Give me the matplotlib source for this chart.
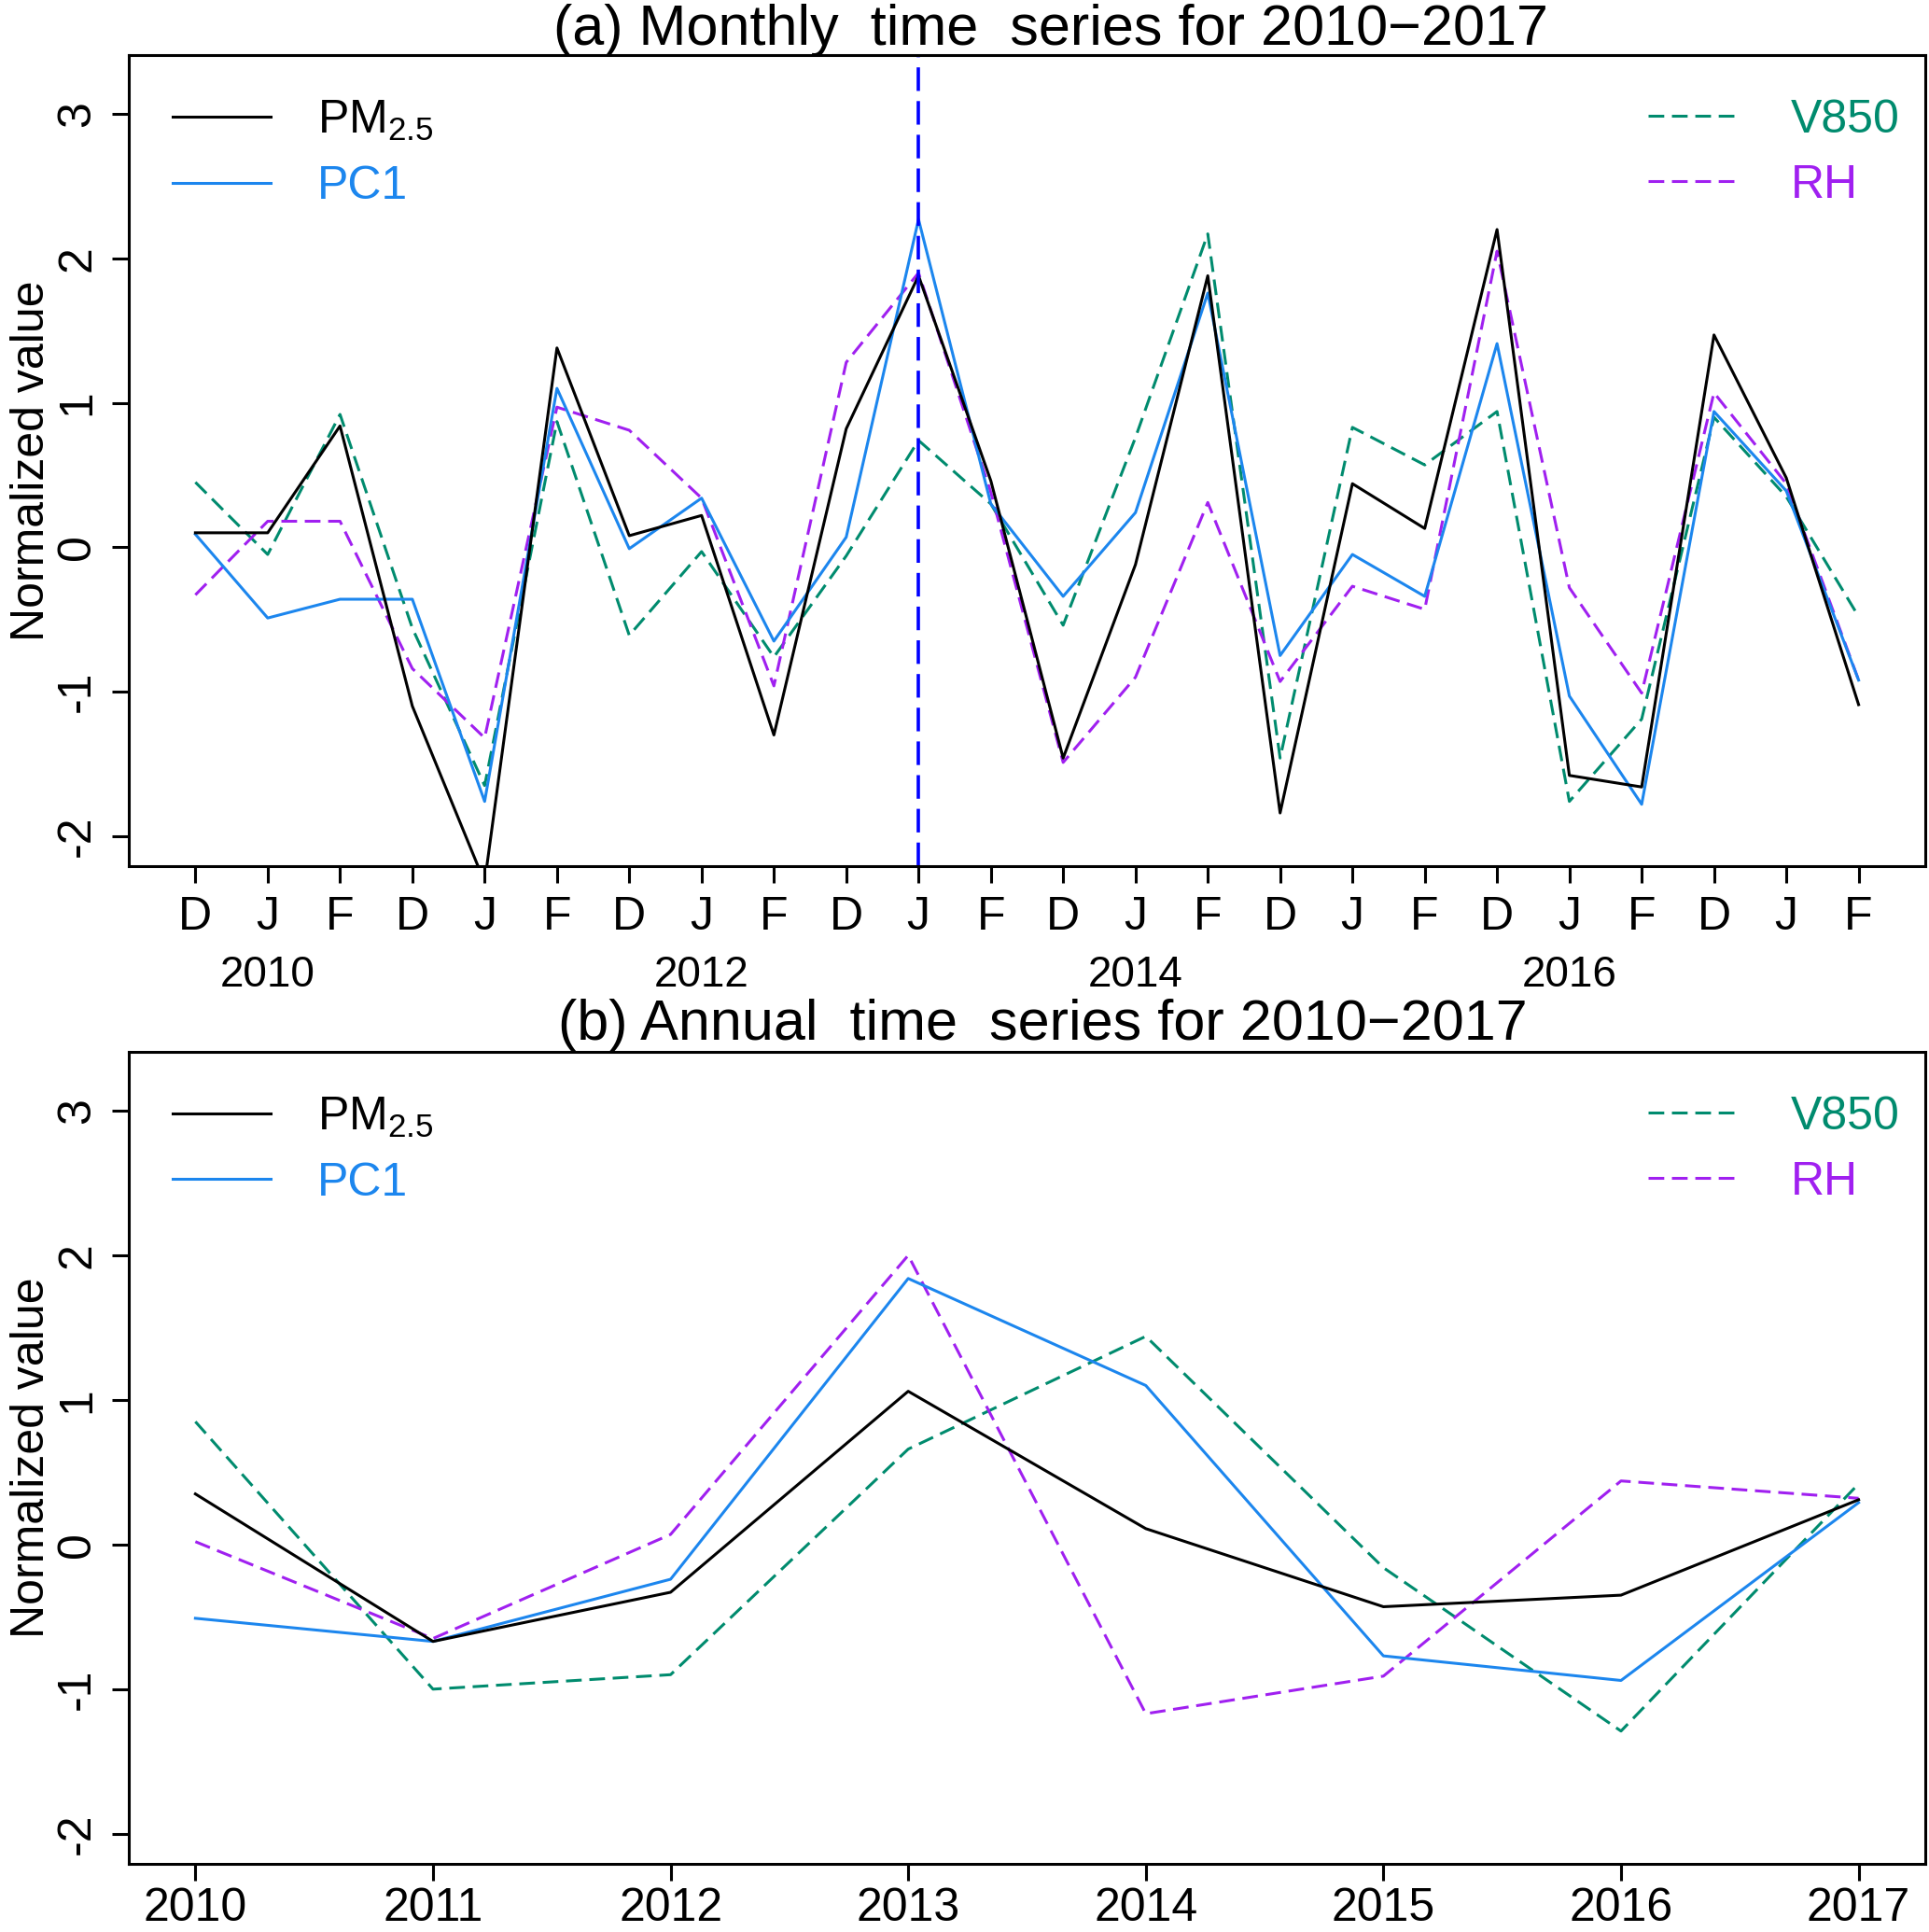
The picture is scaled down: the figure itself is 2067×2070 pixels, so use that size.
import numpy as np
import matplotlib
matplotlib.use("Agg")
import matplotlib.pyplot as plt
from matplotlib.lines import Line2D
from matplotlib.transforms import blended_transform_factory

plt.rcParams['font.family'] = ['Liberation Sans', 'DejaVu Sans']
plt.rcParams['mathtext.fontset'] = 'custom'
plt.rcParams['mathtext.rm'] = 'Liberation Sans'
plt.rcParams['mathtext.it'] = 'Liberation Sans:italic'
plt.rcParams['axes.unicode_minus'] = False

# monthly (DJF) series, Dec 2009 .. Feb 2017
month_labels = ['D', 'J', 'F'] * 8
year_labels = ['2010', '2012', '2014', '2016']
year_pos = [2, 8, 14, 20]
pm25_m = [0.10, 0.10, 0.84, -1.10, -2.32, 1.38, 0.08, 0.22, -1.30, 0.82, 1.88, 0.46,
          -1.46, -0.12, 1.88, -1.84, 0.44, 0.13, 2.20, -1.58, -1.66, 1.47, 0.48, -1.09]
pc1_m = [0.09, -0.49, -0.36, -0.36, -1.76, 1.10, -0.01, 0.34, -0.65, 0.07, 2.27, 0.30,
         -0.34, 0.24, 1.76, -0.75, -0.05, -0.34, 1.41, -1.03, -1.78, 0.94, 0.39, -0.92]
v850_m = [0.45, -0.05, 0.92, -0.56, -1.65, 0.87, -0.61, -0.03, -0.76, -0.06, 0.74, 0.30,
          -0.54, 0.76, 2.17, -1.46, 0.83, 0.57, 0.94, -1.76, -1.19, 0.90, 0.35, -0.48]
rh_m = [-0.33, 0.18, 0.18, -0.84, -1.32, 0.97, 0.81, 0.34, -0.96, 1.28, 1.90, 0.38,
        -1.49, -0.90, 0.31, -0.93, -0.27, -0.43, 2.05, -0.28, -1.01, 1.07, 0.44, -0.92]
vline_month = 11

# annual series
years = [2010, 2011, 2012, 2013, 2014, 2015, 2016, 2017]
pm25_a = [0.35, -0.67, -0.33, 1.06, 0.11, -0.43, -0.35, 0.31]
pc1_a = [-0.51, -0.67, -0.24, 1.84, 1.10, -0.77, -0.94, 0.29]
v850_a = [0.85, -1.00, -0.90, 0.66, 1.44, -0.16, -1.29, 0.42]
rh_a = [0.02, -0.65, 0.07, 2.00, -1.17, -0.91, 0.44, 0.32]

c_pm = 'black'
c_pc = '#1C86EE'
c_v = '#008B6E'
c_rh = '#A020F0'
lw = 2.2
dash = (5.5, 2.7)
fs = 36


def style_axes(ax):
    ax.set_ylim(-2.208, 3.408)
    ax.set_yticks([-2, -1, 0, 1, 2, 3])
    ax.set_yticklabels(['-2', '-1', '0', '1', '2', '3'], rotation=90, va='center')
    ax.tick_params(axis='both', length=13, width=2.2, pad=10, labelsize=fs)
    for s in ax.spines.values():
        s.set_linewidth(2.2)
    ax.set_ylabel('Normalized value', fontsize=fs)
    ax.yaxis.set_label_coords(-0.042, 0.5)


def draw_series(ax, x, pm, pc, v, rh):
    ax.plot(x, v, color=c_v, lw=lw, dashes=dash)
    ax.plot(x, rh, color=c_rh, lw=lw, dashes=dash)
    ax.plot(x, pc, color=c_pc, lw=lw)
    ax.plot(x, pm, color=c_pm, lw=lw)


def add_legends(ax):
    h1 = [Line2D([], [], color=c_pm, lw=lw), Line2D([], [], color=c_pc, lw=lw)]
    leg1 = ax.legend(h1, ['PM$_{2.5}$', 'PC1'], loc='upper left',
                     bbox_to_anchor=(0.0244, 0.946), frameon=False, fontsize=fs,
                     handlelength=2.1, handletextpad=1.0, labelspacing=0.48,
                     borderpad=0, borderaxespad=0, labelcolor=[c_pm, c_pc])
    ax.add_artist(leg1)
    h2 = [Line2D([], [], color=c_v, lw=lw, dashes=dash),
          Line2D([], [], color=c_rh, lw=lw, dashes=dash)]
    ax.legend(h2, ['V850', 'RH'], loc='upper left',
              bbox_to_anchor=(0.846, 0.946), frameon=False, fontsize=fs,
              handlelength=1.84, handletextpad=1.2, labelspacing=0.48,
              borderpad=0, borderaxespad=0, labelcolor=[c_v, c_rh])


fig = plt.figure(figsize=(20.67, 20.70), dpi=100)
ax1 = fig.add_axes([0.0668, 0.5517, 0.9312, 0.4198])
ax2 = fig.add_axes([0.0668, 0.0353, 0.9312, 0.4203])

# (a) monthly
xm = np.arange(1, len(month_labels) + 1)
draw_series(ax1, xm, pm25_m, pc1_m, v850_m, rh_m)
ax1.axvline(vline_month, color='#0000FF', lw=2.6, dashes=(7, 3))
ax1.set_xlim(0.08, 24.92)
ax1.set_xticks(xm)
ax1.set_xticklabels(month_labels)
style_axes(ax1)
tr = blended_transform_factory(ax1.transData, ax1.transAxes)
for p, lab in zip(year_pos, year_labels):
    ax1.text(p, -0.109, lab, transform=tr, ha='center', va='top', fontsize=33)
ax1.text(0.5135, 1.013, '(a) Monthly  time  series for 2010\u22122017',
         transform=ax1.transAxes, ha='center', va='baseline', fontsize=44)
add_legends(ax1)

# (b) annual
draw_series(ax2, years, pm25_a, pc1_a, v850_a, rh_a)
ax2.set_xlim(2009.72, 2017.28)
ax2.set_xticks(years)
ax2.set_xticklabels([str(y) for y in years])
style_axes(ax2)
ax2.tick_params(axis='x', pad=5)
ax2.text(0.509, 1.015, '(b) Annual  time  series for 2010\u22122017',
         transform=ax2.transAxes, ha='center', va='baseline', fontsize=44)
add_legends(ax2)

fig.savefig('out.png', dpi=100)
